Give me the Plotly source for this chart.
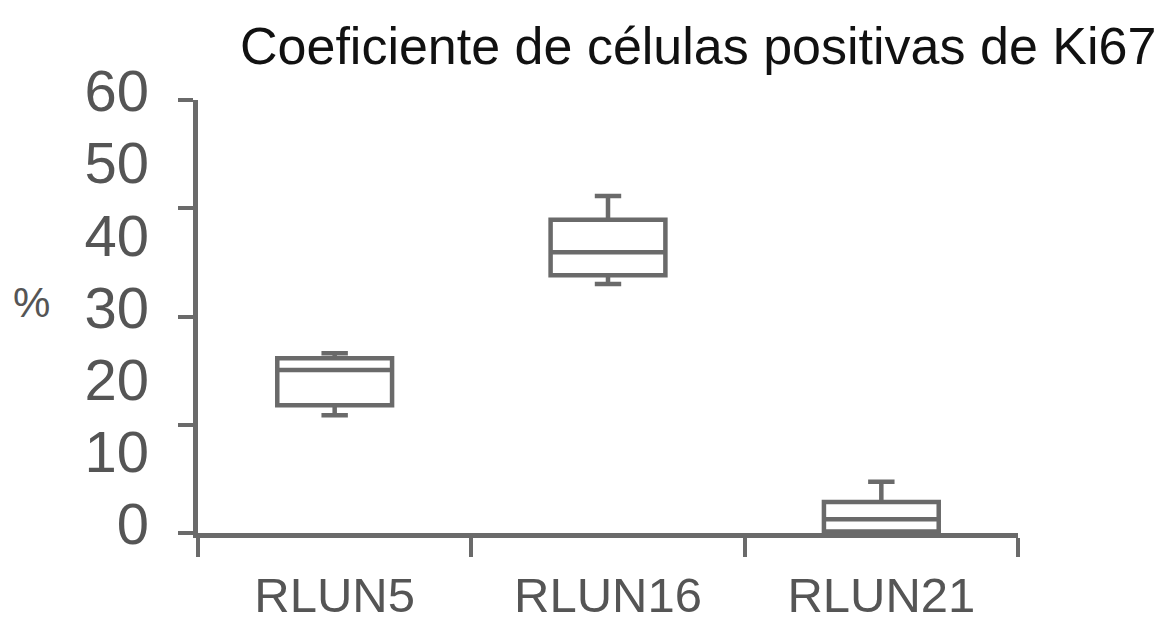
import plotly.graph_objects as go

categories = ["RLUN5", "RLUN16", "RLUN21"]
lower_whisker = [16.3, 34.5, 0.0]
q1_values = [17.7, 35.7, 0.2]
median_values = [22.6, 38.9, 1.9]
q3_values = [24.2, 43.4, 4.3]
upper_whisker = [24.9, 46.7, 7.1]

y_label_vals = [0, 10, 20, 30, 40, 50, 60]
y_mark_vals = [0, 15, 30, 45, 60]

title_text = "Coeficiente de células positivas de Ki67"
y_unit = "%"

LINE = "#6a6a6a"
TXT = "#555555"
FONT = "Liberation Sans, Arial, Helvetica, sans-serif"

fig = go.Figure()
# boxes drawn on the labelled axis (y2, 0-60 scale)
fig.add_trace(go.Box(
    x=categories,
    q1=q1_values,
    median=median_values,
    q3=q3_values,
    lowerfence=lower_whisker,
    upperfence=upper_whisker,
    width=0.42,
    whiskerwidth=0.23,
    fillcolor="white",
    line=dict(color=LINE, width=4.5),
    boxpoints=False,
    showlegend=False,
    hoverinfo="skip",
    yaxis="y2",
))
# invisible helper so the tick-mark axis (y) is drawn
fig.add_trace(go.Scatter(
    x=categories, y=median_values, mode="markers",
    marker=dict(opacity=0), showlegend=False, hoverinfo="skip",
))

fig.update_layout(
    width=1167, height=625,
    margin=dict(l=198, r=149, t=100, b=92),
    paper_bgcolor="white", plot_bgcolor="white",
    font=dict(family=FONT, color=TXT),
    title=dict(text=title_text, font=dict(size=52, color="#111111", family=FONT),
               xref="container", x=240/1167, xanchor="left",
               yref="container", y=1 - 28/625, yanchor="top"),
    xaxis=dict(
        type="category", range=[-0.5, 2.5], automargin=False,
        showline=True, linecolor=LINE, linewidth=5,
        ticks="outside", ticklen=19, tickwidth=4, tickcolor=LINE,
        tickson="boundaries",
        tickfont=dict(size=49, color=TXT, family=FONT),
        ticklabelstandoff=15,
        showgrid=False, zeroline=False,
    ),
    yaxis=dict(
        range=[0, 60], automargin=False,
        showline=True, linecolor=LINE, linewidth=5,
        ticks="outside", ticklen=15, tickwidth=4, tickcolor=LINE,
        tickvals=y_mark_vals, ticktext=[""] * len(y_mark_vals),
        showgrid=False, zeroline=False,
    ),
    yaxis2=dict(
        overlaying="y", side="left", range=[0, 60], anchor="x", automargin=False,
        showline=False, ticks="", showgrid=False, zeroline=False,
        tickvals=y_label_vals, ticktext=[str(v) for v in y_label_vals],
        tickfont=dict(size=58, color=TXT, family=FONT),
        ticklabelstandoff=48, ticklabelshift=-9,
    ),
    annotations=[dict(text=y_unit, xref="paper", yref="paper",
                      x=(31 - 198) / 820, y=(533 - 302) / 433,
                      xanchor="center", yanchor="middle", showarrow=False,
                      font=dict(size=42, color=TXT, family=FONT))],
)

fig.write_html("out.html", config={"displayModeBar": False},
               post_script="document.body.style.margin='0';")
